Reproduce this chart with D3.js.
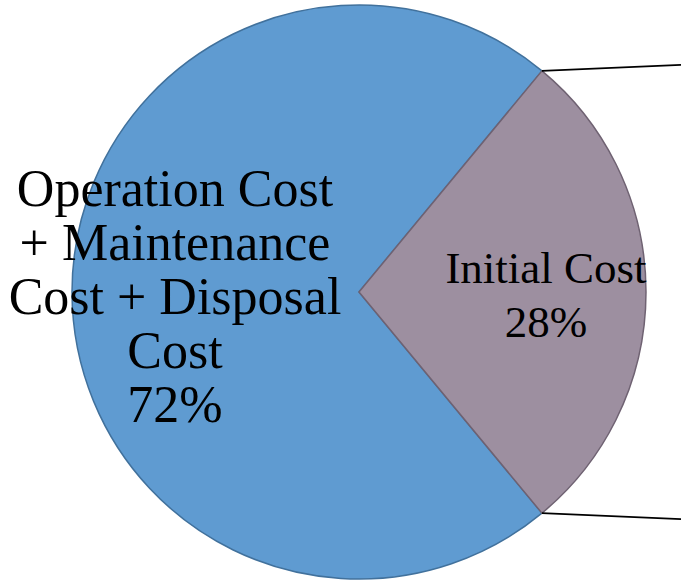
<!DOCTYPE html>
<html lang="en">
<head>
  <meta charset="UTF-8">
  <title>Life Cycle Cost</title>
  <style>
    *{box-sizing:border-box;margin:0;padding:0}
    body{background:#fff;overflow:hidden}
    text{font-family:'Liberation Serif','Times New Roman',serif;fill:#000}
  </style>
  <script src="https://d3js.org/d3.v7.min.js"></script>
</head>
<body>
  <div id="chart"></div>
  <script>
    /* ---------- DATA ---------- */
    const labels = ['Initial Cost', 'Operation Cost + Maintenance Cost + Disposal Cost'];
    const values = [28, 72];
    const labelLines = [
      ['Initial Cost', '28%'],
      ['Operation Cost', '+ Maintenance', 'Cost + Disposal', 'Cost', '72%']
    ];
    const colors = ['#9d8fa0', '#5f9bd1'];
    const strokes = ['#6f6272', '#41719c'];

    /* ---------- DRAW ---------- */
    const width = 681, height = 580;
    const cx = 359, cy = 292, r = 287;

    const svg = d3.select('#chart').append('svg')
      .attr('width', width).attr('height', height);

    const share = values[0] / d3.sum(values);
    const start = Math.PI / 2 - share * Math.PI;   // keep small slice centred on the right

    const pie = d3.pie().sort(null).value(d => d)
      .startAngle(start).endAngle(start + 2 * Math.PI);
    const arcs = pie(values);
    const arc = d3.arc().innerRadius(0).outerRadius(r);

    const g = svg.append('g').attr('transform', `translate(${cx},${cy})`);

    // big slice first so the small one's border sits on top
    g.selectAll('path').data([arcs[1], arcs[0]]).enter().append('path')
      .attr('d', arc)
      .attr('fill', d => colors[d.index])
      .attr('stroke', d => strokes[d.index])
      .attr('stroke-width', 1.5)
      .attr('stroke-linejoin', 'round');

    /* ---- leader lines off the slice corners ---- */
    const corner = a => [r * Math.sin(a), -r * Math.cos(a)];
    const ends = [[arcs[0].startAngle, -6], [arcs[0].endAngle, 6]];
    ends.forEach(([a, dy]) => {
      const [x, y] = corner(a);
      g.append('line')
        .attr('x1', x).attr('y1', y)
        .attr('x2', width - cx).attr('y2', y + dy)
        .attr('stroke', '#000').attr('stroke-width', 1.6);
    });

    /* ---- labels ---- */
    const labelPos = [
      {x: 546, y: 283, size: 45, lh: 54},
      {x: 175, y: 206, size: 52, lh: 54}
    ];
    labelLines.forEach((lines, i) => {
      const p = labelPos[i];
      const t = svg.append('text')
        .attr('text-anchor', 'middle')
        .attr('font-size', p.size)
        .attr('aria-label', labels[i]);
      lines.forEach((s, k) => {
        t.append('tspan').attr('x', p.x).attr('y', p.y + k * p.lh).text(s);
      });
    });
  </script>
</body>
</html>
